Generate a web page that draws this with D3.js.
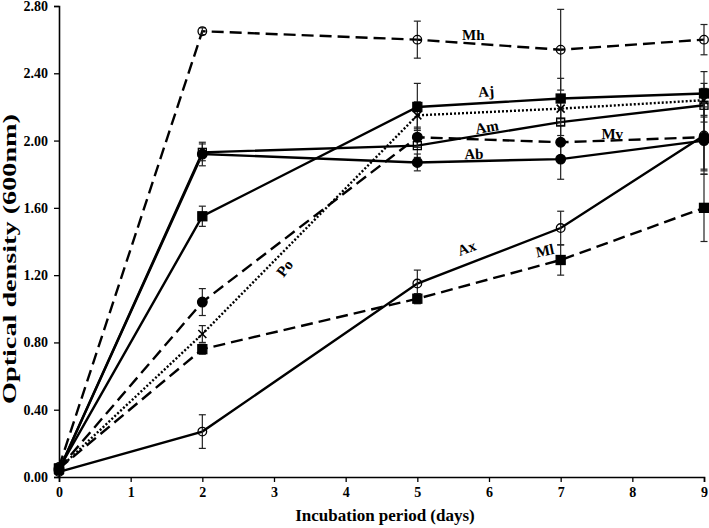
<!DOCTYPE html>
<html>
<head>
<meta charset="utf-8">
<script src="https://cdn.jsdelivr.net/npm/d3@7"></script>
<style>
  html, body { margin: 0; padding: 0; background: #fff; }
  svg { display: block; }
  text { font-family: "Liberation Serif", "Times New Roman", serif; font-weight: bold; fill: #000; }
</style>
</head>
<body>
<div id="chart"></div>
<script>
// ---- data ----
const days = [0, 2, 5, 7, 9];
const seriesNames = ["Mh", "Aj", "Po", "Am", "Mv", "Ab", "Ax", "Ml"];
const mhValues = [0.06, 2.65, 2.60, 2.54, 2.60];
const ajValues = [0.05, 1.55, 2.20, 2.25, 2.28];
const poValues = [0.05, 0.85, 2.15, 2.19, 2.24];
const amValues = [0.04, 1.93, 1.97, 2.11, 2.21];
const mvValues = [0.05, 1.04, 2.02, 1.99, 2.02];
const abValues = [0.04, 1.92, 1.87, 1.89, 2.00];
const axValues = [0.03, 0.27, 1.15, 1.48, 2.03];
const mlValues = [0.05, 0.76, 1.06, 1.29, 1.60];
const mhErrors = [0.01, 0.02, 0.11, 0.24, 0.09];
const ajErrors = [0.01, 0.06, 0.14, 0.12, 0.13];
const poErrors = [0.01, 0.05, 0.08, 0.08, 0.10];
const amErrors = [0.01, 0.05, 0.07, 0.08, 0.10];
const mvErrors = [0.01, 0.08, 0.06, 0.10, 0.20];
const abErrors = [0.01, 0.07, 0.05, 0.12, 0.20];
const axErrors = [0.01, 0.10, 0.08, 0.10, 0.20];
const mlErrors = [0.01, 0.03, 0.03, 0.09, 0.20];
const yTicks = [0.00, 0.40, 0.80, 1.20, 1.60, 2.00, 2.40, 2.80];
const xTicks = [0, 1, 2, 3, 4, 5, 6, 7, 8, 9];
const xTitle = "Incubation period (days)";
const yTitle = "Optical density (600nm)";

// ---- styles per series ----
const styles = {
  Mh: { dash: "12,6", marker: "circle", fill: false },
  Aj: { dash: null,   marker: "square", fill: true },
  Po: { dash: "2,2",  marker: "cross",  fill: false },
  Am: { dash: null,   marker: "square", fill: false },
  Mv: { dash: "12,6", marker: "circle", fill: true },
  Ab: { dash: null,   marker: "circle", fill: true },
  Ax: { dash: null,   marker: "circle", fill: false },
  Ml: { dash: "12,6", marker: "square", fill: true }
};
const valuesBy = { Mh: mhValues, Aj: ajValues, Po: poValues, Am: amValues, Mv: mvValues, Ab: abValues, Ax: axValues, Ml: mlValues };
const errorsBy = { Mh: mhErrors, Aj: ajErrors, Po: poErrors, Am: amErrors, Mv: mvErrors, Ab: abErrors, Ax: axErrors, Ml: mlErrors };

const series = seriesNames.map(name => ({
  name,
  points: days.map((d, i) => ({ day: d, v: valuesBy[name][i], e: errorsBy[name][i] })),
  style: styles[name]
}));

// label annotations (data coordinates of label centres)
const labels = [
  { text: "Mh", day: 5.78, v: 2.63, rot: 0 },
  { text: "Aj", day: 5.96, v: 2.29, rot: -4 },
  { text: "Am", day: 5.97, v: 2.08, rot: -10 },
  { text: "Ab", day: 5.79, v: 1.92, rot: -2 },
  { text: "Mv", day: 7.72, v: 2.04, rot: 0 },
  { text: "Po", day: 3.15, v: 1.24, rot: -52 },
  { text: "Ax", day: 5.69, v: 1.36, rot: -20 },
  { text: "Ml", day: 6.78, v: 1.345, rot: -12 }
];

// ---- layout ----
const W = 709, H = 528;
const margin = { left: 59, right: 5, top: 6, bottom: 51 };
const svg = d3.select("#chart").append("svg").attr("width", W).attr("height", H);

const x = d3.scaleLinear().domain([0, 9]).range([margin.left, W - margin.right]);
const y = d3.scaleLinear().domain([0, 2.8]).range([H - margin.bottom, margin.top]);

// axes
const xAxis = d3.axisBottom(x).tickValues(xTicks).tickFormat(d3.format("d")).tickSizeOuter(0).tickSize(5).tickPadding(5);
const yAxis = d3.axisLeft(y).tickValues(yTicks).tickFormat(d3.format(".2f")).tickSizeOuter(0).tickSize(5).tickPadding(6);

const gx = svg.append("g").attr("transform", `translate(0,${y(0)})`).call(xAxis);
const gy = svg.append("g").attr("transform", `translate(${x(0)},0)`).call(yAxis);
[gx, gy].forEach(g => {
  g.select(".domain").attr("stroke", "#000").attr("stroke-width", 1.6);
  g.selectAll(".tick line").attr("stroke", "#000").attr("stroke-width", 1.3);
  g.selectAll(".tick text").style("font-family", "'Liberation Serif', serif").style("font-weight", "bold").style("font-size", "14px").attr("fill", "#000");
});

// titles
svg.append("text").attr("x", 385).attr("y", 521).attr("text-anchor", "middle")
  .style("font-size", "17px").text(xTitle);
svg.append("text").attr("transform", `translate(16,${259}) rotate(-90)`).attr("text-anchor", "middle")
  .attr("textLength", 290).attr("lengthAdjust", "spacingAndGlyphs")
  .style("font-size", "18px").text(yTitle);

// lines
const line = d3.line().x(d => x(d.day)).y(d => y(d.v));
svg.append("g").selectAll("path").data(series).join("path")
  .attr("d", d => line(d.points))
  .attr("fill", "none").attr("stroke", "#000").attr("stroke-width", 2.4)
  .attr("stroke-dasharray", d => d.style.dash);

// error bars
const eb = svg.append("g").attr("stroke", "#222").attr("stroke-width", 1.2);
series.forEach(s => {
  s.points.forEach(p => {
    if (p.day === 0) return;
    const cx = x(p.day), y1 = y(p.v + p.e), y2 = y(p.v - p.e);
    eb.append("line").attr("x1", cx).attr("x2", cx).attr("y1", y1).attr("y2", y2);
    eb.append("line").attr("x1", cx - 3.5).attr("x2", cx + 3.5).attr("y1", y1).attr("y2", y1);
    eb.append("line").attr("x1", cx - 3.5).attr("x2", cx + 3.5).attr("y1", y2).attr("y2", y2);
  });
});

// markers
const mg = svg.append("g");
series.forEach(s => {
  s.points.forEach(p => {
    const cx = x(p.day), cy = y(p.v);
    const st = s.style;
    if (st.marker === "circle") {
      mg.append("circle").attr("cx", cx).attr("cy", cy).attr("r", st.fill ? 4.8 : 4.3)
        .attr("fill", st.fill ? "#000" : "none").attr("stroke", "#000").attr("stroke-width", 1.3);
    } else if (st.marker === "square") {
      const sz = st.fill ? 9 : 8;
      mg.append("rect").attr("x", cx - sz / 2).attr("y", cy - sz / 2).attr("width", sz).attr("height", sz)
        .attr("fill", st.fill ? "#000" : "none").attr("stroke", "#000").attr("stroke-width", 1.3);
    } else if (st.marker === "cross") {
      const r = 4;
      mg.append("path").attr("d", `M${cx - r},${cy - r}L${cx + r},${cy + r}M${cx - r},${cy + r}L${cx + r},${cy - r}`)
        .attr("stroke", "#000").attr("stroke-width", 1.6).attr("fill", "none");
    }
  });
});

// labels
svg.append("g").selectAll("text").data(labels).join("text")
  .attr("transform", d => `translate(${x(d.day)},${y(d.v)}) rotate(${d.rot})`)
  .attr("text-anchor", "middle").attr("dominant-baseline", "central")
  .style("font-size", "15px").text(d => d.text);
</script>
</body>
</html>
